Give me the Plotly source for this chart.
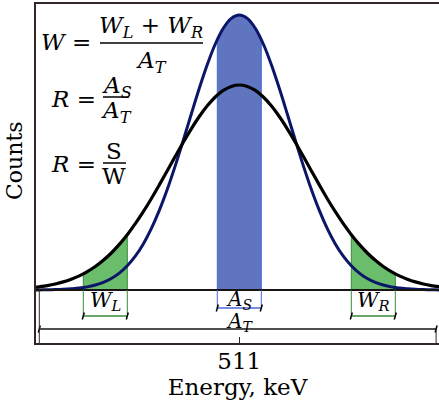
import plotly.graph_objects as go

# ---------------- data ----------------
energy = [459, 461, 463, 465, 467, 469, 471, 473, 475, 477, 479, 481, 483, 485,
          487, 489, 491, 493, 495, 497, 499, 501, 503, 505, 507, 509, 511,
          513, 515, 517, 519, 521, 523, 525, 527, 529, 531, 533, 535, 537,
          539, 541, 543, 545, 547, 549, 551, 553, 555, 557, 559, 561, 563]

narrow_counts = [0.0, 0.1, 0.2, 0.4, 0.7, 1.2, 1.9, 3.1, 5.0, 7.6, 11.5, 16.9, 24.2, 33.8,
                 46.1, 61.4, 79.6, 100.7, 124.4, 149.8, 176.0, 201.7, 225.5, 246.0, 261.7, 271.6, 275.0,
                 271.6, 261.7, 246.0, 225.5, 201.7, 176.0, 149.8, 124.4, 100.7, 79.6, 61.4, 46.1, 33.8,
                 24.2, 16.9, 11.5, 7.6, 5.0, 3.1, 1.9, 1.2, 0.7, 0.4, 0.2, 0.1, 0.0]

wide_counts = [2.2, 3.2, 4.4, 6.0, 8.1, 10.8, 14.1, 18.4, 23.5, 29.7, 37.0, 45.6, 55.3, 66.3,
               78.3, 91.3, 105.1, 119.3, 133.7, 147.8, 161.2, 173.5, 184.2, 193.0, 199.6, 203.6, 205.0,
               203.6, 199.6, 193.0, 184.2, 173.5, 161.2, 147.8, 133.7, 119.3, 105.1, 91.3, 78.3, 66.3,
               55.3, 45.6, 37.0, 29.7, 23.5, 18.4, 14.1, 10.8, 8.1, 6.0, 4.4, 3.2, 2.2]

wl_energy = [472, 474, 476, 478, 480, 482, 483]
wl_counts = [16.2, 20.8, 26.5, 33.3, 41.2, 50.3, 55.3]
wr_energy = [539, 540, 542, 544, 546, 548, 550]
wr_counts = [55.3, 50.3, 41.2, 33.3, 26.5, 20.8, 16.2]
as_energy = [505.5, 506, 507, 508, 509, 510, 511, 512, 513, 514, 515, 516, 516.5]
as_counts = [250.2, 254.5, 261.7, 267.4, 271.6, 274.1, 275.0, 274.1, 271.6, 267.4, 261.7, 254.5, 250.2]
at_band = [461, 560.2]

tick_vals = [511]
tick_text = ["511"]

# ---------------- layout helpers ----------------
W, H = 439, 401
ML, MR, MT, MB = 36, 0, 4, 58
XR = [460.175, 560.925]
YR = [-53, 286]


def px(x):
    return (x - ML) / (W - ML - MR)


def py(y):
    return (H - MB - y) / (H - MT - MB)


def dy(ypix):  # pixel row -> data y
    return YR[0] + (H - MB - ypix) * (YR[1] - YR[0]) / (H - MT - MB)


GREEN_FILL = "rgb(106,189,106)"
GREEN_LINE = "rgb(55,140,55)"
BLUE_FILL = "rgb(95,117,191)"
BLUE_EDGE = "rgb(70,105,215)"
NAVY = "rgb(12,22,105)"
FRAME = "rgb(50,38,38)"
FONT = "DejaVu Serif"

fig = go.Figure()


def band_fill(xs, ys, fillc, linec):
    fig.add_trace(go.Scatter(
        x=[xs[0]] + xs + [xs[-1]], y=[0] + ys + [0], fill="toself",
        fillcolor=fillc, mode="lines", line=dict(color=linec, width=1),
        hoverinfo="skip", showlegend=False))


band_fill(wl_energy, wl_counts, GREEN_FILL, GREEN_LINE)
band_fill(wr_energy, wr_counts, GREEN_FILL, GREEN_LINE)
band_fill(as_energy, as_counts, BLUE_FILL, BLUE_EDGE)

fig.add_trace(go.Scatter(x=energy, y=narrow_counts, mode="lines",
                         line=dict(color=NAVY, width=3, shape="spline"),
                         showlegend=False, hoverinfo="skip"))
fig.add_trace(go.Scatter(x=energy, y=wide_counts, mode="lines",
                         line=dict(color="black", width=3.2, shape="spline"),
                         showlegend=False, hoverinfo="skip"))

shapes = []
# baseline
shapes.append(dict(type="line", xref="paper", yref="y", x0=0, x1=1, y0=0, y1=0,
                   line=dict(color="rgb(25,20,20)", width=2)))


def seg(x0, y0, x1, y1, color, width):
    shapes.append(dict(type="line", xref="x", yref="y", x0=x0, y0=y0, x1=x1, y1=y1,
                       line=dict(color=color, width=width)))


def bracket(lo, hi, ypix, color):
    yb = dy(ypix)
    seg(lo, yb, hi, yb, color, 1.5)
    for e in (lo, hi):
        seg(e - 0.25, yb - 3.5, e + 0.25, yb + 3.5, "black", 1.5)


# vertical guide lines below baseline
for e in (wl_energy[0], wl_energy[-1], wr_energy[0], wr_energy[-1]):
    seg(e, 0, e, dy(316), GREEN_LINE, 1)
for e in (as_energy[0], as_energy[-1]):
    seg(e, 0, e, dy(308), BLUE_EDGE, 1)
bracket(wl_energy[0], wl_energy[-1], 316, GREEN_LINE)
bracket(wr_energy[0], wr_energy[-1], 316, GREEN_LINE)
bracket(as_energy[0], as_energy[-1], 308, BLUE_EDGE)
bracket(at_band[0], at_band[1], 329, "rgb(25,20,20)")
seg(at_band[0], 0, at_band[0], YR[0], FRAME, 1)
seg(at_band[1], dy(329), at_band[1], YR[0], FRAME, 1)

# fraction bars
for x0, x1, yy in ((100, 203, 43), (103, 129, 97), (103, 126, 163)):
    shapes.append(dict(type="line", xref="paper", yref="paper",
                       x0=px(x0), x1=px(x1), y0=py(yy), y1=py(yy),
                       line=dict(color="black", width=1.5)))

annotations = []


def ann(text, xp, yp, size=23, xanchor="center", ref="px", angle=0):
    if ref == "px":
        x, y, xr, yr = px(xp), py(yp), "paper", "paper"
    else:
        x, y, xr, yr = xp, yp, "x", "y"
    annotations.append(dict(text=text, x=x, y=y, xref=xr, yref=yr, showarrow=False,
                            xanchor=xanchor, yanchor="middle", textangle=angle,
                            font=dict(family=FONT, size=size, color="black")))


# formulas
ann("<i>W</i> =", 39, 42, xanchor="left")
ann("<i>W</i><sub><i>L</i></sub> + <i>W</i><sub><i>R</i></sub>", 151, 27)
ann("<i>A</i><sub><i>T</i></sub>", 151, 62)
ann("<i>R</i> =", 49, 99, xanchor="left")
ann("<i>A</i><sub><i>S</i></sub>", 117, 87)
ann("<i>A</i><sub><i>T</i></sub>", 116, 112)
ann("<i>R</i> =", 49, 164, xanchor="left")
ann("S", 114, 151)
ann("W", 114, 176)

# band labels
ann("<i>W</i><sub><i>L</i></sub>", (wl_energy[0] + wl_energy[-1]) / 2, dy(301), size=21, ref="data")
ann("<i>W</i><sub><i>R</i></sub>", (wr_energy[0] + wr_energy[-1]) / 2, dy(301), size=21, ref="data")
ann("<i>A</i><sub><i>S</i></sub>", (as_energy[0] + as_energy[-1]) / 2, dy(300), size=20, ref="data")
ann("<i>A</i><sub><i>T</i></sub>", 511, dy(322), size=20, ref="data")

# y title
ann("Counts", 14, 161, size=22, angle=-90)

fig.update_layout(
    width=W, height=H,
    margin=dict(l=ML, r=MR, t=MT, b=MB),
    paper_bgcolor="white", plot_bgcolor="white",
    shapes=shapes, annotations=annotations,
    xaxis=dict(range=XR, showgrid=False, zeroline=False,
               showline=True, mirror=True, linecolor=FRAME, linewidth=1.5,
               ticks="inside", ticklen=6, tickwidth=1, tickcolor=FRAME,
               tickvals=tick_vals, ticktext=tick_text, ticklabelstandoff=-3,
               tickfont=dict(family=FONT, size=23, color="black"),
               title=dict(text="Energy, keV", standoff=0,
                          font=dict(family=FONT, size=23, color="black"))),
    yaxis=dict(range=YR, showgrid=False, zeroline=False, showticklabels=False,
               showline=True, mirror=False, linecolor=FRAME, linewidth=1.5, ticks=""),
)

fig.write_html("out.html")
